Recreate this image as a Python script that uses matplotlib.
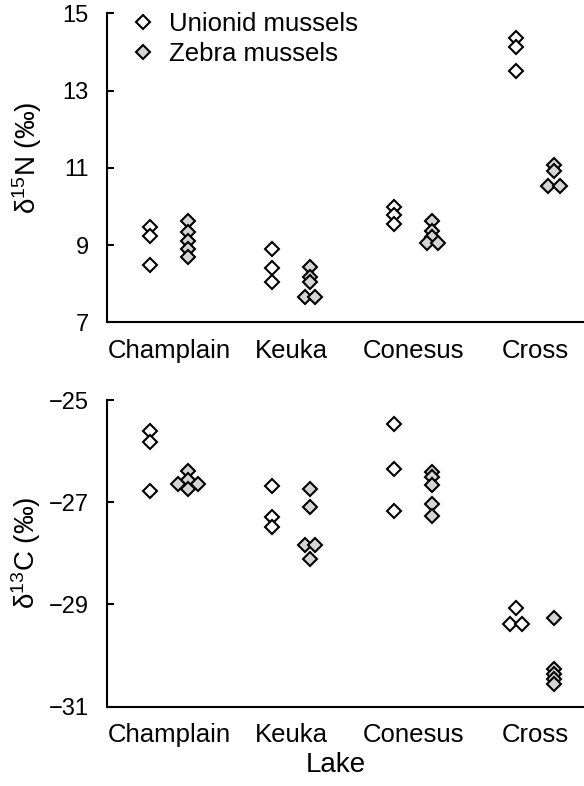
import matplotlib
matplotlib.use('Agg')
import matplotlib.pyplot as plt

plt.rcParams['font.family'] = ['Liberation Sans', 'DejaVu Sans']
plt.rcParams['mathtext.fontset'] = 'custom'
plt.rcParams['mathtext.rm'] = 'Liberation Sans'
plt.rcParams['mathtext.it'] = 'Liberation Sans'

lakes = ['Champlain', 'Keuka', 'Conesus', 'Cross']

# delta 15N (per mil), one list per lake
unionid_n15 = [[9.48, 9.24, 8.48], [8.89, 8.40, 8.03],
               [9.99, 9.78, 9.55], [14.36, 14.14, 13.52]]
zebra_n15 = [[9.61, 9.35, 9.11, 8.89, 8.68], [8.44, 8.18, 8.03, 7.66, 7.66],
             [9.62, 9.36, 9.20, 9.06, 9.06], [11.08, 10.92, 10.52, 10.52]]

# delta 13C (per mil)
unionid_c13 = [[-25.60, -25.82, -26.78], [-26.68, -27.29, -27.48],
               [-25.46, -26.34, -27.17], [-29.07, -29.38, -29.38]]
zebra_c13 = [[-26.39, -26.57, -26.65, -26.65, -26.75],
             [-26.75, -27.09, -27.83, -27.83, -28.12],
             [-26.41, -26.50, -26.67, -27.03, -27.27],
             [-29.26, -30.26, -30.36, -30.46, -30.56]]

# small sideways nudges for overlapping points (same shape as the data)
unionid_n15_nudge = [[0, 0, 0], [0, 0, 0], [0, 0, 0], [0, 0, 0]]
zebra_n15_nudge = [[0, 0, 0, 0, 0], [0, 0, 0, -0.04, 0.04],
                   [0, 0, 0, -0.045, 0.045], [0, 0, -0.05, 0.05]]
unionid_c13_nudge = [[0, 0, 0], [0, 0, 0], [0, 0, 0], [0, -0.05, 0.05]]
zebra_c13_nudge = [[0, 0, -0.085, 0.085, 0], [0, 0, -0.04, 0.04, 0],
                   [0, 0, 0, 0, 0], [0, 0, 0, 0, 0]]

OFFSET = 0.155
MS = 7.2
ZEBRA_GRAY = '#d4d4d4'


def scatter_group(ax, values, nudges, shift, face, label):
    first = True
    for i, (vals, nud) in enumerate(zip(values, nudges)):
        xs = [i + shift + n for n in nud]
        ax.plot(xs, vals, ls='none', marker='D', ms=MS, mew=1.5,
                mec='black', mfc=face, label=label if first else None,
                clip_on=False, zorder=3)
        first = False


def style_axes(ax, ylim, yticks):
    ax.set_xlim(-0.51, 3.40)
    ax.set_ylim(*ylim)
    ax.set_yticks(yticks)
    ax.set_yticklabels([f'{t:g}'.replace('-', '\u2212') for t in yticks])
    ax.set_xticks(range(len(lakes)))
    ax.set_xticklabels(lakes, fontsize=18.5)
    ax.spines['top'].set_visible(False)
    ax.spines['right'].set_visible(False)
    ax.spines['left'].set_linewidth(1.5)
    ax.spines['bottom'].set_linewidth(1.5)
    ax.tick_params(axis='y', direction='in', length=5, width=1.5,
                   labelsize=17, pad=13)
    ax.tick_params(axis='x', length=0, pad=12)


fig = plt.figure(figsize=(5.84, 7.86), dpi=100)
ax1 = fig.add_axes([0.183, 0.590, 0.817, 0.393])
ax2 = fig.add_axes([0.183, 0.101, 0.817, 0.390])

scatter_group(ax1, unionid_n15, unionid_n15_nudge, -OFFSET, 'white', 'Unionid mussels')
scatter_group(ax1, zebra_n15, zebra_n15_nudge, OFFSET, ZEBRA_GRAY, 'Zebra mussels')
style_axes(ax1, (7, 15), [7, 9, 11, 13, 15])

scatter_group(ax2, unionid_c13, unionid_c13_nudge, -OFFSET, 'white', None)
scatter_group(ax2, zebra_c13, zebra_c13_nudge, OFFSET, ZEBRA_GRAY, None)
style_axes(ax2, (-31, -25), [-31, -29, -27, -25])

ax1.legend(loc='upper left', bbox_to_anchor=(0.049, 1.005), frameon=False,
           numpoints=1, handlelength=1.0, handletextpad=0.5,
           labelspacing=0.25, borderpad=0, borderaxespad=0, fontsize=18.5)

fig.text(26.7 / 584, 1 - 158 / 786, '\u03b4$^{15}$N (\u2030)', rotation=90,
         ha='center', va='center', fontsize=20)
fig.text(26 / 584, 1 - 553 / 786, '\u03b4$^{13}$C (\u2030)', rotation=90,
         ha='center', va='center', fontsize=20)
fig.text(336 / 584, 1 - 765 / 786, 'Lake', ha='center', va='center', fontsize=20)

fig.savefig('out.png', dpi=100)
